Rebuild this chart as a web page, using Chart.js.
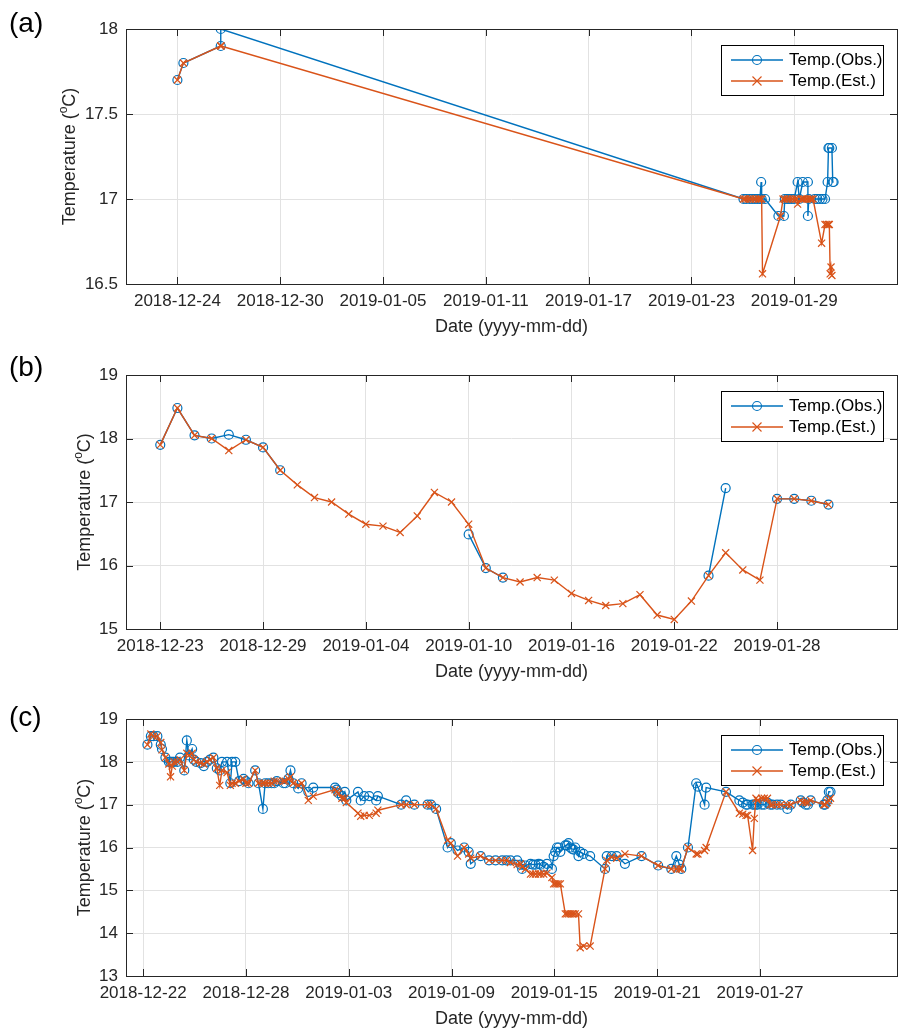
<!DOCTYPE html>
<html>
<head>
<meta charset="utf-8">
<script src="https://cdn.jsdelivr.net/npm/chart.js@4.4.1/dist/chart.umd.min.js"></script>
<style>
  body { margin: 0; background: #fff; width: 920px; height: 1029px; position: relative; overflow: hidden; }
  canvas { position: absolute; left: 0; }
</style>
</head>
<body>
<canvas id="chartA" width="920" height="340" style="top:0px"></canvas>
<canvas id="chartB" width="920" height="350" style="top:340px"></canvas>
<canvas id="chartC" width="920" height="339" style="top:690px"></canvas>
<script>
// x values are days since 2018-12-21 (left edge of every panel)
const xStart = '2018-12-21';
const xEnd = '2019-02-04';

const aTickLabels = ['2018-12-24', '2018-12-30', '2019-01-05', '2019-01-11', '2019-01-17', '2019-01-23', '2019-01-29'];
const bTickLabels = ['2018-12-23', '2018-12-29', '2019-01-04', '2019-01-10', '2019-01-16', '2019-01-22', '2019-01-28'];
const cTickLabels = ['2018-12-22', '2018-12-28', '2019-01-03', '2019-01-09', '2019-01-15', '2019-01-21', '2019-01-27'];

// (a)
const aObsDays = [3.0, 3.35, 5.53, 5.53, 36.04, 36.2, 36.4, 36.55, 36.7, 36.85, 37.0, 37.07, 37.1, 37.3,
  38.08, 38.4, 38.45, 38.6, 38.7, 38.85, 39.0, 39.2, 39.3, 39.5, 39.8, 39.8, 39.85,
  40.2, 40.35, 40.5, 40.65, 40.8, 40.95, 41.0, 41.05, 41.2, 41.25, 41.3];
const aObsTemp = [17.7, 17.8, 17.9, 18.0, 17.0, 17.0, 17.0, 17.0, 17.0, 17.0, 17.0, 17.1, 17.0, 17.0,
  16.9, 16.9, 17.0, 17.0, 17.0, 17.0, 17.0, 17.1, 17.0, 17.1, 17.1, 16.9, 17.0,
  17.0, 17.0, 17.0, 17.0, 17.0, 17.1, 17.3, 17.3, 17.3, 17.1, 17.1];
const aEstDays = [3.0, 3.35, 5.53, 5.55, 36.04, 36.15, 36.3, 36.45, 36.6, 36.75, 36.9, 37.0, 37.1, 37.15,
  38.2, 38.35, 38.45, 38.6, 38.75, 38.9, 39.05, 39.15, 39.2, 39.4, 39.5, 39.6, 39.75, 39.9, 40.0, 40.1,
  40.6, 40.8, 40.9, 41.0, 41.05, 41.1, 41.15, 41.2];
const aEstTemp = [17.7, 17.8, 17.9, 17.9, 17.0, 17.0, 17.0, 17.0, 17.0, 17.0, 17.0, 17.0, 17.0, 16.56,
  16.9, 17.0, 17.0, 17.0, 17.0, 17.0, 17.0, 17.0, 16.97, 17.0, 17.0, 17.0, 17.0, 17.0, 17.0, 17.0,
  16.74, 16.85, 16.85, 16.85, 16.85, 16.56, 16.6, 16.55];

// (b) daily values, day 2 .. 41
const bDays = [2, 3, 4, 5, 6, 7, 8, 9, 10, 11, 12, 13, 14, 15, 16, 17, 18, 19, 20, 21, 22, 23, 24, 25, 26, 27, 28, 29, 30, 31, 32, 33, 34, 35, 36, 37, 38, 39, 40, 41];
const bObsTemp = [17.90, 18.48, 18.05, 18.0, 18.06, 17.98, 17.86, 17.5,
  null, null, null, null, null, null, null, null, null, null,
  16.49, 15.96, 15.81,
  null, null, null, null, null, null, null, null, null, null, null,
  15.84, 17.22, null, null, 17.05, 17.05, 17.02, 16.96];
const bEstTemp = [17.90, 18.48, 18.05, 18.0, 17.81, 17.98, 17.86, 17.5, 17.27, 17.07, 17.0, 16.81, 16.65, 16.62, 16.52, 16.78, 17.15, 17.0, 16.65, 15.96,
  15.81, 15.74, 15.81, 15.77, 15.56, 15.45, 15.37, 15.40, 15.54, 15.22, 15.15, 15.44, 15.84, 16.2, 15.93, 15.77, 17.05, 17.05, 17.02, 16.96];

// (c)
const cDays = [
  1.25, 1.45, 1.6, 1.83, 2.03, 2.1, 2.3, 2.5, 2.6, 2.7,
  2.8, 3.0, 3.15, 3.4, 3.55, 3.67, 3.86, 3.96, 4.1, 4.35,
  4.54, 4.73, 4.9, 5.1, 5.3, 5.47, 5.6, 5.9, 6.09, 6.19,
  6.38, 6.6, 6.86, 7.0, 7.15, 7.54, 7.73, 7.99, 8.12, 8.3,
  8.5, 8.65, 8.8, 9.19, 9.3, 9.48, 9.6, 9.76, 10.05, 10.25,
  10.64, 10.93, 12.2, 12.3, 12.4, 12.6, 12.77, 12.86, 13.54, 13.7,
  13.9, 14.2, 14.6, 14.7, 16.06, 16.35, 16.83, 17.6, 17.8, 18.1,
  18.77, 18.96, 19.35, 19.74, 20.0, 20.12, 20.7, 21.19, 21.57, 21.96,
  22.2, 22.44, 22.83, 23.03, 23.12, 23.32, 23.61, 23.75, 23.9, 24.09,
  24.2, 24.38, 24.57, 24.86, 24.96, 25.05, 25.15, 25.25, 25.35, 25.64,
  25.73, 25.83, 25.93, 26.03, 26.12, 26.22, 26.41, 26.51, 26.7, 27.09,
  27.96, 28.06, 28.35, 28.64, 29.12, 30.09, 31.06, 31.83, 32.12, 32.3,
  32.41, 32.8, 33.28, 33.38, 33.77, 33.86, 35.02, 35.8, 36.0, 36.19,
  36.28, 36.57, 36.67, 36.77, 36.86, 37.1, 37.25, 37.44, 37.6, 37.73,
  38.0, 38.22, 38.6, 38.8, 39.38, 39.5, 39.67, 39.8, 39.96, 40.73,
  40.8, 40.93, 41.02, 41.12];
const cObsTemp = [
  18.4, 18.6, 18.6, 18.6, 18.4, 18.3, 18.1, 18.0, 18.0, 18.0,
  18.0, 18.0, 18.1, 17.8, 18.5, 18.15, 18.3, 18.05, 18.0, 17.97,
  17.9, 18.0, 18.05, 18.1, 17.85, 17.8, 18.0, 18.0, 17.5, 18.0,
  18.0, 17.55, 17.6, 17.55, 17.5, 17.8, 17.5, 16.9, 17.5, 17.5,
  17.5, 17.5, 17.55, 17.5, 17.5, 17.6, 17.8, 17.5, 17.38, 17.5,
  17.3, 17.4, 17.4, 17.35, 17.27, 17.2, 17.3, 17.1, 17.3, 17.1,
  17.2, 17.2, 17.1, 17.2, 17.0, 17.1, 17.0, 17.0, 17.0, 16.9,
  16.0, 16.1, 15.93, 16.0, 15.9, 15.62, 15.8, 15.7, 15.7, 15.7,
  15.7, 15.7, 15.7, 15.6, 15.5, 15.58, 15.62, 15.6, 15.6, 15.62,
  15.6, 15.55, 15.62, 15.5, 15.8, 15.9, 16.0, 16.0, 15.9, 16.05,
  16.05, 16.1, 16.0, 15.97, 15.95, 16.0, 15.8, 15.9, 15.85, 15.8,
  15.5, 15.8, 15.8, 15.8, 15.62, 15.8, 15.58, 15.5, 15.8, 15.6,
  15.5, 16.0, 17.5, 17.42, 17.0, 17.4, 17.3, 17.1, 17.05, 17.0,
  17.0, 17.0, 17.0, 17.0, 17.0, 17.0, 17.0, 17.05, 17.0, 17.0,
  17.0, 17.0, 16.9, 17.0, 17.1, 17.05, 17.0, 17.0, 17.1, 17.0,
  17.0, 17.1, 17.3, 17.3];
const cEstTemp = [
  18.4, 18.65, 18.6, 18.6, 18.45, 18.28, 18.1, 17.95, 17.65, 17.9,
  18.0, 18.0, 18.05, 17.8, 18.2, 18.15, 18.2, 18.05, 18.0, 17.97,
  17.95, 18.0, 18.05, 18.1, 17.85, 17.45, 17.8, 17.75, 17.45, 17.5,
  17.5, 17.55, 17.6, 17.5, 17.5, 17.8, 17.5, 17.5, 17.5, 17.5,
  17.5, 17.55, 17.55, 17.55, 17.55, 17.6, 17.65, 17.5, 17.45, 17.5,
  17.1, 17.2, 17.35, 17.3, 17.27, 17.15, 17.15, 17.05, 16.8, 16.73,
  16.75, 16.75, 16.8, 16.87, 17.0, 17.0, 17.0, 17.0, 17.0, 16.9,
  16.17, 16.1, 15.8, 16.0, 15.85, 15.75, 15.8, 15.7, 15.7, 15.7,
  15.7, 15.65, 15.6, 15.62, 15.55, 15.5, 15.38, 15.38, 15.38, 15.38,
  15.38, 15.38, 15.4, 15.3, 15.15, 15.15, 15.15, 15.15, 15.15, 14.45,
  14.45, 14.45, 14.45, 14.45, 14.45, 14.45, 14.45, 13.66, 13.7, 13.7,
  15.5, 15.7, 15.78, 15.75, 15.85, 15.8, 15.58, 15.5, 15.5, 15.5,
  15.5, 16.0, 15.85, 15.85, 15.93, 16.0, 17.3, 16.8, 16.78, 16.75,
  16.75, 15.93, 16.68, 17.15, 17.1, 17.15, 17.15, 17.15, 17.0, 17.0,
  17.0, 17.0, 17.0, 17.0, 17.1, 17.05, 17.05, 17.05, 17.1, 17.0,
  17.0, 17.05, 17.1, 17.15];

const obsColor = '#0072BD';
const estColor = '#D95319';
const axisColor = '#262626';
const fontFamily = '"Liberation Sans", Arial, Helvetica, sans-serif';

const BASE = Date.parse(xStart + 'T00:00:00Z');
function dayOf(s) { return (Date.parse(s + 'T00:00:00Z') - BASE) / 86400000; }
function dateOf(d) { return new Date(BASE + Math.round(d) * 86400000).toISOString().slice(0, 10); }
function points(days, vals) { return days.map((d, i) => ({ x: d, y: vals[i] })); }

function drawMarker(ctx, style, x, y, color) {
  ctx.strokeStyle = color;
  ctx.lineWidth = 1.1;
  ctx.beginPath();
  if (style === 'circle') {
    ctx.arc(x, y, 4.5, 0, Math.PI * 2);
  } else {
    ctx.moveTo(x - 4.5, y - 4.5); ctx.lineTo(x + 4.5, y + 4.5);
    ctx.moveTo(x + 4.5, y - 4.5); ctx.lineTo(x - 4.5, y + 4.5);
  }
  ctx.stroke();
}

// MATLAB look: box, inward ticks, titles, legend, panel letter
const matlabFrame = {
  id: 'matlabFrame',
  afterDraw(chart, args, opts) {
    const ctx = chart.ctx;
    const { left, right, top, bottom } = chart.chartArea;
    const xs = chart.scales.x, ys = chart.scales.y;
    ctx.save();
    ctx.strokeStyle = axisColor;
    ctx.lineWidth = 1;
    ctx.strokeRect(Math.round(left) + 0.5, Math.round(top) + 0.5, Math.round(right - left), Math.round(bottom - top));
    ctx.beginPath();
    xs.ticks.forEach(t => {
      const px = Math.round(xs.getPixelForValue(t.value)) + 0.5;
      ctx.moveTo(px, bottom); ctx.lineTo(px, bottom - 7);
      ctx.moveTo(px, top); ctx.lineTo(px, top + 7);
    });
    ys.ticks.forEach(t => {
      const py = Math.round(ys.getPixelForValue(t.value)) + 0.5;
      ctx.moveTo(left, py); ctx.lineTo(left + 7, py);
      ctx.moveTo(right, py); ctx.lineTo(right - 7, py);
    });
    ctx.stroke();

    ctx.fillStyle = axisColor;
    ctx.textBaseline = 'middle';
    // x title
    ctx.font = '18px ' + fontFamily;
    ctx.textAlign = 'center';
    ctx.fillText('Date (yyyy-mm-dd)', (left + right) / 2, bottom + 43);

    // y title with superscript o
    ctx.save();
    ctx.translate(opts.yTitleX, (top + bottom) / 2);
    ctx.rotate(-Math.PI / 2);
    ctx.textAlign = 'left';
    const p1 = 'Temperature (', p2 = 'o', p3 = 'C)';
    ctx.font = '18px ' + fontFamily;
    const w1 = ctx.measureText(p1).width, w3 = ctx.measureText(p3).width;
    ctx.font = '12px ' + fontFamily;
    const w2 = ctx.measureText(p2).width;
    const sx = -(w1 + w2 + w3) / 2;
    ctx.font = '18px ' + fontFamily;
    ctx.fillText(p1, sx, 0);
    ctx.font = '12px ' + fontFamily;
    ctx.fillText(p2, sx + w1, -6);
    ctx.font = '18px ' + fontFamily;
    ctx.fillText(p3, sx + w1 + w2, 0);
    ctx.restore();

    // panel letter
    ctx.font = '28px ' + fontFamily;
    ctx.textAlign = 'left';
    ctx.fillStyle = '#000';
    ctx.fillText(opts.letter, 9, opts.letterY);

    // legend
    const bw = 162, bh = 50;
    const bx = Math.round(right - 14 - bw), by = Math.round(top + 16);
    ctx.fillStyle = '#fff';
    ctx.fillRect(bx, by, bw, bh);
    ctx.strokeStyle = '#000';
    ctx.lineWidth = 1;
    ctx.strokeRect(bx + 0.5, by + 0.5, bw, bh);
    const rows = [
      { text: 'Temp.(Obs.)', color: obsColor, marker: 'circle', y: by + 15 },
      { text: 'Temp.(Est.)', color: estColor, marker: 'cross', y: by + 36 }
    ];
    rows.forEach(r => {
      ctx.strokeStyle = r.color;
      ctx.lineWidth = 1.4;
      ctx.beginPath();
      ctx.moveTo(bx + 10, r.y); ctx.lineTo(bx + 62, r.y);
      ctx.stroke();
      drawMarker(ctx, r.marker, bx + 36, r.y, r.color);
      ctx.fillStyle = '#000';
      ctx.font = '17px ' + fontFamily;
      ctx.textAlign = 'left';
      ctx.fillText(r.text, bx + 68, r.y);
    });
    ctx.restore();
  }
};

function makePanel(id, cfg) {
  const canvas = document.getElementById(id);
  const tickDays = cfg.tickLabels.map(dayOf);
  return new Chart(canvas, {
    type: 'line',
    data: {
      datasets: [
        {
          label: 'Temp.(Est.)',
          data: cfg.est,
          order: 0,
          borderColor: estColor,
          borderWidth: 1.4,
          pointStyle: 'crossRot',
          pointRadius: 5,
          pointBorderWidth: 1.2,
          pointBorderColor: estColor,
          pointBackgroundColor: 'rgba(0,0,0,0)',
          tension: 0,
          spanGaps: false
        },
        {
          label: 'Temp.(Obs.)',
          data: cfg.obs,
          order: 1,
          borderColor: obsColor,
          borderWidth: 1.4,
          pointStyle: 'circle',
          pointRadius: 4.5,
          pointBorderWidth: 1.2,
          pointBorderColor: obsColor,
          pointBackgroundColor: 'rgba(0,0,0,0)',
          tension: 0,
          spanGaps: false
        }
      ]
    },
    options: {
      responsive: false,
      animation: false,
      events: [],
      layout: { padding: { top: cfg.padTop, right: 23, left: 0, bottom: 0 } },
      plugins: {
        legend: { display: false },
        tooltip: { enabled: false },
        matlabFrame: { letter: cfg.letter, letterY: cfg.letterY, yTitleX: cfg.yTitleX }
      },
      scales: {
        x: {
          type: 'linear',
          min: dayOf(xStart),
          max: dayOf(xEnd),
          afterBuildTicks: s => { s.ticks = tickDays.map(v => ({ value: v })); },
          afterFit: s => { s.height = cfg.xHeight; },
          grid: { color: '#e2e2e2', drawTicks: false },
          border: { display: false },
          ticks: {
            autoSkip: false,
            maxRotation: 0,
            padding: 7,
            color: axisColor,
            font: { family: fontFamily, size: 17 },
            callback: v => dateOf(v)
          }
        },
        y: {
          min: cfg.yMin,
          max: cfg.yMax,
          afterFit: s => { s.width = 126; },
          grid: { color: '#e2e2e2', drawTicks: false },
          border: { display: false },
          ticks: {
            stepSize: cfg.yStep,
            padding: 8,
            color: axisColor,
            font: { family: fontFamily, size: 17 },
            callback: v => String(v)
          }
        }
      }
    },
    plugins: [matlabFrame]
  });
}

makePanel('chartA', {
  letter: '(a)', letterY: 24, yTitleX: 70,
  padTop: 29, xHeight: 56,
  yMin: 16.5, yMax: 18, yStep: 0.5,
  tickLabels: aTickLabels,
  obs: points(aObsDays, aObsTemp),
  est: points(aEstDays, aEstTemp)
});

makePanel('chartB', {
  letter: '(b)', letterY: 28, yTitleX: 85,
  padTop: 35, xHeight: 61,
  yMin: 15, yMax: 19, yStep: 1,
  tickLabels: bTickLabels,
  obs: points(bDays, bObsTemp),
  est: points(bDays, bEstTemp)
});

makePanel('chartC', {
  letter: '(c)', letterY: 28, yTitleX: 85,
  padTop: 29, xHeight: 53,
  yMin: 13, yMax: 19, yStep: 1,
  tickLabels: cTickLabels,
  obs: points(cDays, cObsTemp),
  est: points(cDays, cEstTemp)
});
</script>
</body>
</html>
